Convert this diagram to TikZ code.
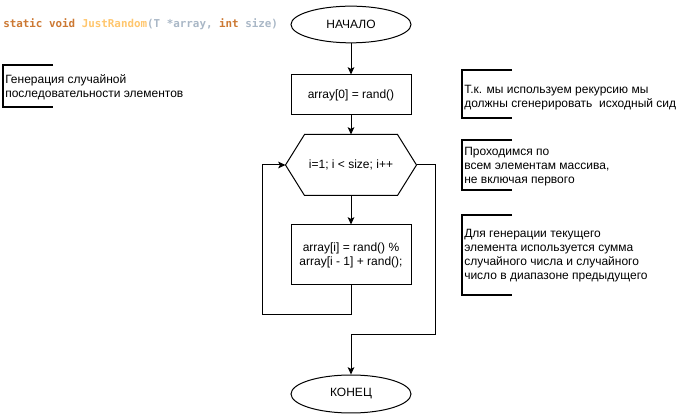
\documentclass[tikz,border=0pt]{standalone}
\usepackage{fontspec}
\setmainfont{Liberation Sans}
\newfontfamily\codefont{DejaVu Sans Mono}
\usetikzlibrary{shapes.geometric,arrows.meta,calc}
\definecolor{kw}{HTML}{CC7832}
\definecolor{fn}{HTML}{FFC66D}
\definecolor{pr}{HTML}{A9B7C6}
\tikzset{
  base/.style={font=\fontsize{9}{10.5}\selectfont, line width=0.75pt, draw=black, align=center, inner sep=0pt},
  term/.style={base, ellipse, minimum width=90pt, minimum height=27.5pt},
  proc/.style={base, rectangle, minimum width=90pt},
  hexnode/.style={base, draw=none, rectangle, minimum width=97.5pt, minimum height=45pt},
  arr/.style={line width=0.75pt, -{Stealth[length=5.5pt,width=5pt,inset=1.3pt]}},
  wire/.style={line width=0.75pt},
  note/.style={font=\fontsize{9}{10.5}\selectfont, align=left, inner sep=0pt, anchor=west},
  brk/.style={line width=1.1pt}
}
\begin{document}
\begin{tikzpicture}[x=0.75pt,y=-0.75pt]
\useasboundingbox (0,0) rectangle (682,416);
% title
\node[anchor=west, inner sep=0pt, font=\codefont\bfseries\fontsize{8.15}{10}\selectfont] (title) at (3,24)
  {\textcolor{kw}{static void }\textcolor{fn}{JustRandom}\textcolor{pr}{(T *array, }\textcolor{kw}{int }\textcolor{pr}{size)}};
% flow
\node[term] (start) at (351,24.5) {НАЧАЛО};
\node[proc, minimum height=30pt] (arr0) at (351,95) {array[0] = rand()};
\node[hexnode] (loop) at (351,165) {i=1; i < size; i++};
\draw[wire] (loop.west) -- ([xshift=14.25pt]loop.north west) -- ([xshift=-14.25pt]loop.north east)
  -- (loop.east) -- ([xshift=-14.25pt]loop.south east) -- ([xshift=14.25pt]loop.south west) -- cycle;
\node[proc, minimum height=45pt] (body) at (351,255) {array[i] = rand() \%\\array[i - 1] + rand();};
\node[term, minimum height=28.5pt] (end) at (351,394) {КОНЕЦ};
\coordinate (lb) at (262,315);
\coordinate (rb) at (435,335);
\draw[arr] (start) -- (arr0);
\draw[arr] (arr0) -- (loop.north);
\draw[arr] (loop.south) -- (body);
\draw[arr] (body.south) |- (lb) |- (loop.west);
\draw[arr] (loop.east) -| (rb) -| (end.north);
% notes
\node[note] (n1) at (5,87.5) {Генерация случайной\\последовательности элементов};
\draw[brk] (53,65) -- (3,65) -- (3,107) -- (53,107);
\node[note] (n2) at (464,97.5) {Т.к. мы используем рекурсию мы\\должны сгенерировать\ \ исходный сид};
\draw[brk] (512,70) -- (462,70) -- (462,118) -- (512,118);
\node[note] (n3) at (464,166.5) {Проходимся по\\всем элементам массива,\\не включая первого};
\draw[brk] (512,140) -- (462,140) -- (462,190) -- (512,190);
\node[note] (n4) at (464,255.5) {Для генерации текущего\\элемента используется сумма\\случайного числа и случайного\\число в диапазоне предыдущего};
\draw[brk] (512,215) -- (462,215) -- (462,295) -- (512,295);
\end{tikzpicture}
\end{document}
